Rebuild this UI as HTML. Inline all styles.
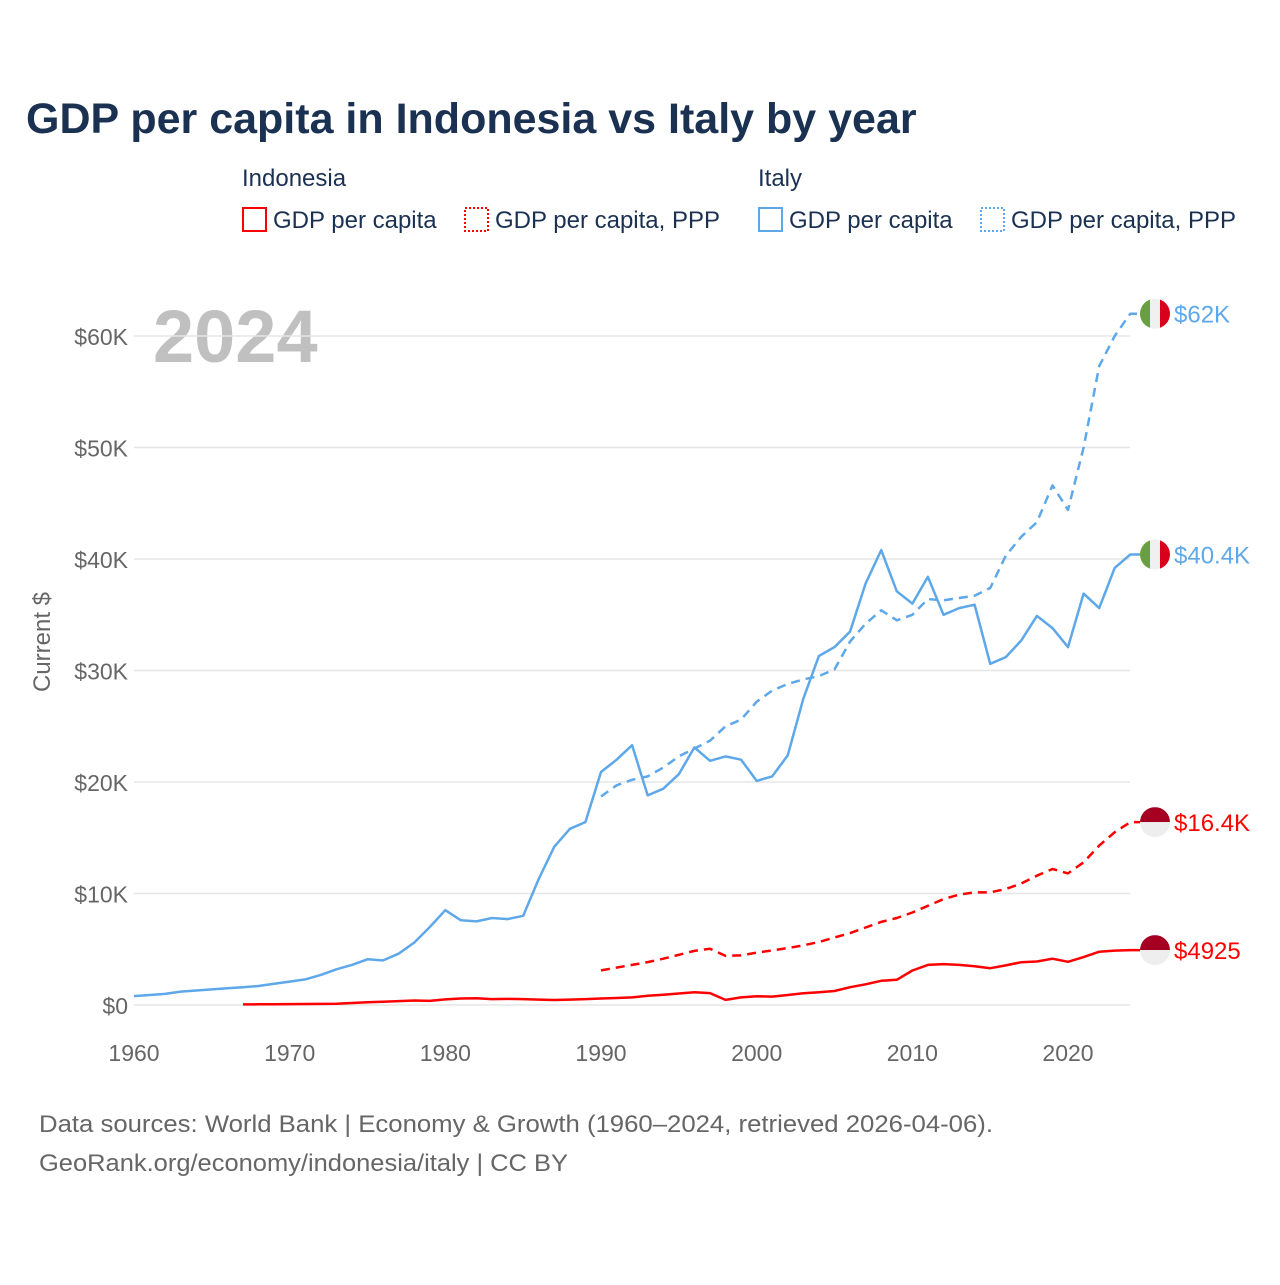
<!DOCTYPE html>
<html><head><meta charset="utf-8"><style>
body{margin:0;background:#fff;font-family:"Liberation Sans",sans-serif}
svg text{font-family:"Liberation Sans",sans-serif}
</style></head><body>
<svg id="chart" width="1280" height="1280" xmlns="http://www.w3.org/2000/svg">
<text x="26" y="133" font-size="43" font-weight="bold" fill="#1b3152">GDP per capita in Indonesia vs Italy by year</text>
<g font-size="24" fill="#1b3152">
<text x="242" y="186">Indonesia</text>
<text x="758" y="186">Italy</text>
<g><rect x="243" y="208" width="23" height="23" fill="none" stroke="#f00" stroke-width="2"/><text x="273" y="228">GDP per capita</text></g>
<g><rect x="465" y="208" width="23" height="23" fill="none" stroke="#f00" stroke-width="2" stroke-dasharray="2,2"/><text x="495" y="228">GDP per capita, PPP</text></g>
<g><rect x="759" y="208" width="23" height="23" fill="none" stroke="#5ea8ea" stroke-width="2"/><text x="789" y="228">GDP per capita</text></g>
<g><rect x="981" y="208" width="23" height="23" fill="none" stroke="#5ea8ea" stroke-width="2" stroke-dasharray="2,2"/><text x="1011" y="228">GDP per capita, PPP</text></g>
</g>
<text x="153" y="362" font-size="74" font-weight="bold" fill="#c0c0c0">2024</text>
<text transform="translate(50,642) rotate(-90)" text-anchor="middle" font-size="24" fill="#666">Current $</text>
<g id="grid"></g><g id="axes"></g><g id="lines"></g><g id="ends"></g>
<g font-size="24" fill="#666">
<text x="39" y="1132" textLength="954" lengthAdjust="spacingAndGlyphs">Data sources: World Bank | Economy &amp; Growth (1960–2024, retrieved 2026-04-06).</text>
<text x="39" y="1171" textLength="529" lengthAdjust="spacingAndGlyphs">GeoRank.org/economy/indonesia/italy | CC BY</text>
</g>
</svg>
<script>
const itGdpStart=1960;
const itGdp=[0.8,0.9,1.0,1.2,1.3,1.4,1.5,1.6,1.7,1.9,2.1,2.3,2.7,3.2,3.6,4.1,4.0,4.6,5.6,7.0,8.5,7.6,7.5,7.8,7.7,8.0,11.3,14.2,15.8,16.4,20.9,22.0,23.3,18.8,19.4,20.7,23.1,21.9,22.3,22.0,20.1,20.5,22.4,27.5,31.3,32.1,33.5,37.8,40.8,37.1,36.0,38.4,35.0,35.6,35.9,30.6,31.2,32.7,34.9,33.8,32.1,36.9,35.6,39.2,40.4];
const itPppStart=1990;
const itPpp=[18.7,19.7,20.2,20.5,21.3,22.3,23.0,23.7,25.0,25.6,27.2,28.2,28.8,29.2,29.5,30.1,32.6,34.2,35.4,34.5,35.0,36.4,36.3,36.5,36.7,37.4,40.3,42.0,43.3,46.6,44.4,50.0,57.3,60.0,62.0];
const idGdpStart=1967;
const idGdp=[0.05,0.06,0.07,0.08,0.09,0.1,0.12,0.18,0.25,0.3,0.35,0.4,0.37,0.5,0.58,0.6,0.53,0.55,0.53,0.48,0.45,0.48,0.53,0.58,0.63,0.68,0.83,0.92,1.03,1.15,1.07,0.46,0.68,0.78,0.75,0.9,1.05,1.15,1.26,1.6,1.86,2.17,2.26,3.09,3.6,3.67,3.6,3.47,3.3,3.55,3.84,3.9,4.15,3.87,4.3,4.78,4.88,4.925];
const idPppStart=1990;
const idPpp=[3.1,3.35,3.6,3.85,4.15,4.5,4.85,5.05,4.4,4.45,4.7,4.9,5.1,5.35,5.65,6.05,6.45,6.95,7.45,7.8,8.3,8.9,9.5,9.9,10.1,10.1,10.4,10.9,11.6,12.2,11.8,12.8,14.3,15.5,16.4];
const yTicks=[0,10,20,30,40,50,60];
const yTickLabels=["$0","$10K","$20K","$30K","$40K","$50K","$60K"];
const xTicks=[1960,1970,1980,1990,2000,2010,2020];
const endLabels=["$62K","$40.4K","$16.4K","$4925"];

const NS="http://www.w3.org/2000/svg";
const xS=yr=>134+(yr-1960)*15.567;
const yS=v=>1005-v*11.15;
function mk(tag,attrs,parent){const e=document.createElementNS(NS,tag);for(const k in attrs)e.setAttribute(k,attrs[k]);parent.appendChild(e);return e;}
const grid=document.getElementById('grid'),axes=document.getElementById('axes'),lines=document.getElementById('lines'),ends=document.getElementById('ends');
yTicks.forEach((t,i)=>{
  const l=mk('line',{x1:134,x2:1130,y1:yS(t),y2:yS(t),stroke:'#e6e6e6','stroke-width':1.5},grid);
  
  
  const tx=mk('text',{x:128,y:yS(t)+9,'text-anchor':'end','font-size':23,fill:'#666'},axes);
  tx.textContent=yTickLabels[i];
  
  
});
xTicks.forEach(t=>{
  const tx=mk('text',{x:xS(t),y:1061,'text-anchor':'middle','font-size':23,fill:'#666'},axes);
  tx.textContent=t;
  
  
});
function series(arr,start,color,dash,name){
  const pts=arr.map((v,i)=>xS(start+i).toFixed(1)+','+yS(v).toFixed(1));
  const last=arr[arr.length-1];
  pts.push('1140,'+yS(last).toFixed(1));
  const p=mk('polyline',{points:pts.join(' '),fill:'none',stroke:color,'stroke-width':2.5,'stroke-linejoin':'round'},lines);
  if(dash)p.setAttribute('stroke-dasharray',dash);
  
  
  return yS(last);
}
const yA=series(itPpp,itPppStart,'#5ea8ea','9,6','line-italy-ppp');
const yB=series(itGdp,itGdpStart,'#5ea8ea',null,'line-italy-gdp');
const yC=series(idPpp,idPppStart,'#f00','9,6','line-indonesia-ppp');
const yD=series(idGdp,idGdpStart,'#f00',null,'line-indonesia-gdp');
function flag(y,italy,label,color,name){
  const g=mk('g',{},ends);
  
  
  const cx=1155,r=15;
  const id='c'+Math.round(y);
  const cp=mk('clipPath',{id:id},g);mk('circle',{cx:cx,cy:y,r:r},cp);
  const f=mk('g',{'clip-path':'url(#'+id+')'},g);
  if(italy){
    mk('rect',{x:cx-r,y:y-r,width:10,height:2*r,fill:'#6a9f3f'},f);
    mk('rect',{x:cx-5,y:y-r,width:10,height:2*r,fill:'#f0f0f0'},f);
    mk('rect',{x:cx+5,y:y-r,width:10,height:2*r,fill:'#d9001b'},f);
  }else{
    mk('rect',{x:cx-r,y:y-r,width:2*r,height:r,fill:'#a50021'},f);
    mk('rect',{x:cx-r,y:y,width:2*r,height:r,fill:'#eeeeee'},f);
  }
  const t=mk('text',{x:1174,y:y+9,'font-size':24,fill:color},g);
  t.textContent=label;
}
flag(yA,true,endLabels[0],'#5ea8ea','end-label-italy-ppp');
flag(yB,true,endLabels[1],'#5ea8ea','end-label-italy-gdp');
flag(yC,false,endLabels[2],'#f00','end-label-indonesia-ppp');
flag(yD,false,endLabels[3],'#f00','end-label-indonesia-gdp');
</script>
</body></html>
